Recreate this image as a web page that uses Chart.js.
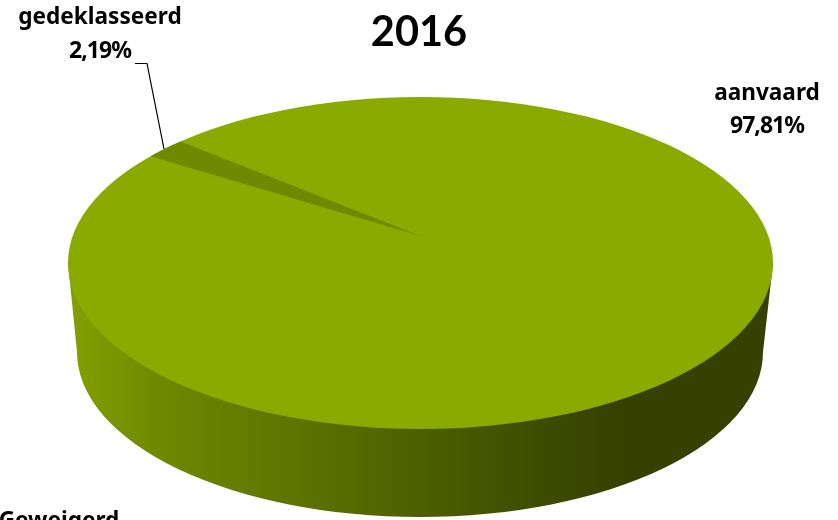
<!DOCTYPE html>
<html>
<head>
<meta charset="utf-8">
<style>html,body{margin:0;padding:0;background:#fff;overflow:hidden}canvas{display:block}</style>
<script src="https://cdn.jsdelivr.net/npm/chart.js@4"></script>
</head>
<body>
<canvas id="c" width="838" height="520"></canvas>
<script>
const titleText = '2016';
const categories = ['aanvaard', 'gedeklasseerd', 'Geweigerd'];
const shares = [97.81, 2.19, 0];
const shareTexts = ['97,81%', '2,19%', ''];
const sliceColors = ['#8AAA00', '#6F8900', '#5E7600'];

// Look of the 3D disc: top face ellipse, foot ellipse of the wall
const FACE = {cx: 420.5, cy: 263, rx: 352.5, ry: 166};
const FOOT = {cx: 420, cy: 352, rx: 343, ry: 165};
const APEX_K = -0.163;     // where the circle's centre lands on the face (perspective)
const ROTATION = 310.3;
const WALL_STOPS = [[68,'#849F00'],[110,'#7A9600'],[150,'#708B00'],[200,'#698200'],[300,'#5C7300'],[420,'#4D5F00'],[540,'#3E4C00'],[620,'#364000'],[773,'#364000']];
const NAME_FONT = 'bold 22.6px "Noto Sans"';
const SHARE_FONT = 'bold 23px "Noto Sans"';
const LABEL_SPOTS = [
  {x: 767, y1: 94, y2: 126},
  {x: 100, y1: 18, y2: 51},
  {x: 59, y1: 522, y2: null}
];
const LEADER = [[135,63.5],[147,63.5],[164,149]];

// Perspective map of the unit disc onto the top face
function toFace(ux, uy) {
  const k = APEX_K, s = Math.sqrt(1 - k * k), d = 1 + k * uy;
  const nx = ux * s / d, ny = (uy + k) / d;
  return [FACE.cx + nx * FACE.rx, FACE.cy + ny * FACE.ry];
}

const disc3d = {
  id: 'disc3d',
  beforeDatasetsDraw(chart) {
    const ctx = chart.ctx;
    const arcs = chart.getDatasetMeta(0).data;

    // wall
    const g = ctx.createLinearGradient(FACE.cx - FACE.rx, 0, FACE.cx + FACE.rx, 0);
    WALL_STOPS.forEach(([x, c]) => g.addColorStop((x - (FACE.cx - FACE.rx)) / (2 * FACE.rx), c));
    ctx.save();
    ctx.beginPath();
    ctx.moveTo(FACE.cx - FACE.rx, FACE.cy);
    ctx.lineTo(FOOT.cx - FOOT.rx, FOOT.cy);
    ctx.ellipse(FOOT.cx, FOOT.cy, FOOT.rx, FOOT.ry, 0, Math.PI, 0, true);
    ctx.lineTo(FACE.cx + FACE.rx, FACE.cy);
    ctx.closePath();
    ctx.fillStyle = g;
    ctx.fill();
    ctx.restore();

    // top face: the largest slice's colour under everything, then each slice
    ctx.save();
    ctx.fillStyle = sliceColors[0];
    ctx.beginPath();
    ctx.ellipse(FACE.cx, FACE.cy, FACE.rx, FACE.ry, 0, 0, Math.PI * 2);
    ctx.fill();
    ctx.restore();

    arcs.forEach((arc, i) => {
      if (i === 0 || !arc.circumference) return;
      const R = arc.outerRadius;
      const a0 = arc.startAngle, a1 = arc.endAngle;
      const o = toFace(0, 0);
      const p0 = toFace(Math.cos(a0), Math.sin(a0));
      const p1 = toFace(Math.cos(a1), Math.sin(a1));
      // solve affine: unit vectors u0,u1 -> p0-o,p1-o
      const ux0 = Math.cos(a0), uy0 = Math.sin(a0), ux1 = Math.cos(a1), uy1 = Math.sin(a1);
      const det = ux0 * uy1 - ux1 * uy0;
      const v0x = p0[0] - o[0], v0y = p0[1] - o[1], v1x = p1[0] - o[0], v1y = p1[1] - o[1];
      const a = (v0x * uy1 - v1x * uy0) / det;
      const c = (v1x * ux0 - v0x * ux1) / det;
      const b = (v0y * uy1 - v1y * uy0) / det;
      const d = (v1y * ux0 - v0y * ux1) / det;
      ctx.save();
      ctx.translate(o[0], o[1]);
      ctx.transform(a, b, c, d, 0, 0);
      ctx.scale(1 / R, 1 / R);
      ctx.translate(-arc.x, -arc.y);
      arc.draw(ctx);
      ctx.restore();
    });
    return false;
  },
  afterDraw(chart) {
    const ctx = chart.ctx;
    ctx.save();
    ctx.fillStyle = '#000';
    ctx.textAlign = 'center';
    ctx.textBaseline = 'middle';
    categories.forEach((name, i) => {
      const s = LABEL_SPOTS[i];
      ctx.font = NAME_FONT;
      ctx.letterSpacing = '0px';
      ctx.fillText(name, s.x, s.y1);
      if (s.y2 !== null && shareTexts[i]) {
        ctx.font = SHARE_FONT;
        ctx.letterSpacing = '-1px';
        ctx.fillText(shareTexts[i], s.x, s.y2);
      }
    });
    ctx.strokeStyle = '#000';
    ctx.lineWidth = 1.2;
    ctx.beginPath();
    LEADER.forEach(([x, y], i) => i ? ctx.lineTo(x, y) : ctx.moveTo(x, y));
    ctx.stroke();
    ctx.restore();
  }
};

new Chart(document.getElementById('c'), {
  type: 'pie',
  data: {
    labels: categories,
    datasets: [{data: shares, backgroundColor: sliceColors, borderWidth: 0}]
  },
  options: {
    responsive: false,
    animation: false,
    rotation: ROTATION,
    plugins: {
      legend: {display: false},
      tooltip: {enabled: false},
      title: {
        display: true,
        text: titleText,
        color: '#000',
        font: {family: 'Lato', size: 41.5, weight: 'bold'},
        padding: {top: 8, bottom: 8}
      }
    }
  },
  plugins: [disc3d]
});
</script>
</body>
</html>
